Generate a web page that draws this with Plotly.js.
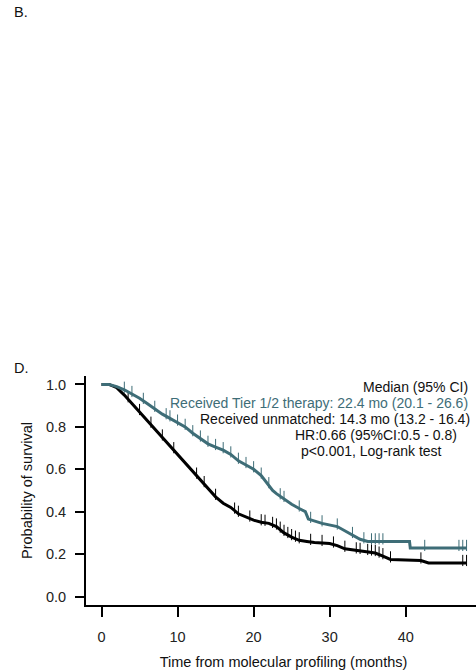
<!DOCTYPE html>
<html>
<head>
<meta charset="utf-8">
<script src="https://cdn.plot.ly/plotly-3.0.1.min.js"></script>
<style>
html,body{margin:0;padding:0;overflow:hidden;background:#fff;width:476px;height:670px;}
#chart{width:481px;height:670px;}
</style>
</head>
<body>
<div id="chart"></div>
<script>
// Received Tier 1/2 therapy (teal) – time in months, survival probability
const tierTime = [0, 1, 2, 3, 4, 5, 6, 7, 8, 9, 10, 11, 12, 13, 14, 15, 16, 17, 18, 19, 20, 21, 22, 22.5, 23, 24, 25, 26, 26.8, 27.2, 28, 29, 31, 32, 33, 34, 35, 40.5, 40.6, 48];
const tierSurv = [1.0, 1.0, 0.99, 0.975, 0.955, 0.935, 0.91, 0.885, 0.86, 0.84, 0.82, 0.80, 0.77, 0.745, 0.72, 0.705, 0.69, 0.67, 0.64, 0.62, 0.60, 0.57, 0.525, 0.50, 0.485, 0.46, 0.435, 0.415, 0.40, 0.365, 0.355, 0.345, 0.33, 0.31, 0.29, 0.27, 0.26, 0.26, 0.229, 0.229];
const tierCensor = [3, 4, 5.5, 7, 8.5, 9, 10, 11, 12, 13, 14, 15, 16, 17, 18, 19, 20, 21, 22, 23.5, 24, 26, 27.5, 29, 31, 33, 34.5, 35.5, 36, 36.5, 37, 42.5, 47, 47.5, 48];

// Received unmatched (black)
const unmTime = [0, 1, 2, 3, 4, 5, 6, 7, 8, 9, 10, 11, 12, 13, 14, 15, 16, 17, 18, 19, 20, 21, 22, 23, 24, 25, 26, 27, 28, 30, 31, 32, 34, 36, 37, 38, 42, 43, 48];
const unmSurv = [1.0, 1.0, 0.985, 0.95, 0.91, 0.87, 0.83, 0.79, 0.75, 0.71, 0.67, 0.63, 0.59, 0.55, 0.51, 0.47, 0.44, 0.42, 0.39, 0.375, 0.36, 0.35, 0.345, 0.33, 0.30, 0.28, 0.265, 0.26, 0.255, 0.25, 0.24, 0.225, 0.215, 0.205, 0.19, 0.175, 0.17, 0.158, 0.158];
const unmCensor = [3.5, 5, 6.5, 8, 9.5, 12.5, 13.5, 15, 17.5, 18, 19.5, 21, 21.5, 22.5, 23, 23.5, 24, 24.5, 25, 25.5, 26, 27.5, 29, 30.5, 32, 33.5, 34, 35, 35.5, 36, 36.5, 37, 38, 42, 47.5, 48];

const xTicks = [0, 10, 20, 30, 40];
const yTicks = [0, 0.2, 0.4, 0.6, 0.8, 1.0];
const yTickText = ['0.0', '0.2', '0.4', '0.6', '0.8', '1.0'];

const TEAL = '#3e6d77';
const FONT = 'Liberation Sans, Arial, sans-serif';

function interp(ts, ss, t) {
  for (let i = 0; i < ts.length - 1; i++) {
    if (t >= ts[i] && t <= ts[i + 1]) {
      if (ts[i + 1] === ts[i]) return ss[i + 1];
      const f = (t - ts[i]) / (ts[i + 1] - ts[i]);
      return ss[i] + f * (ss[i + 1] - ss[i]);
    }
  }
  return ss[ss.length - 1];
}

const traces = [
  {x: unmTime, y: unmSurv, mode: 'lines', line: {color: '#000', width: 3}, hoverinfo: 'skip'},
  {x: unmCensor, y: unmCensor.map(t => interp(unmTime, unmSurv, t) + 0.012), mode: 'markers',
   marker: {symbol: 'line-ns', size: 8, line: {color: '#000', width: 1}}, hoverinfo: 'skip'},
  {x: tierTime, y: tierSurv, mode: 'lines', line: {color: TEAL, width: 3}, hoverinfo: 'skip'},
  {x: tierCensor, y: tierCensor.map(t => interp(tierTime, tierSurv, t) + 0.012), mode: 'markers',
   marker: {symbol: 'line-ns', size: 8, line: {color: TEAL, width: 1}}, hoverinfo: 'skip'}
];

function pxAnn(text, x, y, anchor, color, size) {
  return {text: text, xref: 'paper', yref: 'paper',
    x: (x - 86) / 395, y: (605 - y) / 229, xanchor: anchor, yanchor: 'middle',
    showarrow: false, font: {family: FONT, size: size || 14, color: color || '#111'}};
}

const layout = {
  width: 481, height: 670,
  margin: {l: 86, r: 0, t: 376, b: 65, pad: 0},
  paper_bgcolor: '#fff', plot_bgcolor: '#fff',
  showlegend: false,
  font: {family: FONT, size: 14.5, color: '#111'},
  xaxis: {
    range: [-2.04, 49.9], tickvals: xTicks, ticktext: xTicks.map(String),
    showline: true, linecolor: '#000', linewidth: 2, mirror: false,
    ticks: 'outside', ticklen: 10, tickwidth: 2, tickcolor: '#000',
    showgrid: false, zeroline: false, ticklabelstandoff: 8,
    tickfont: {family: FONT, size: 14.5, color: '#222'},
    title: {text: 'Time from molecular profiling (months)', standoff: 14,
            font: {family: FONT, size: 14.5, color: '#111'}}
  },
  yaxis: {
    range: [-0.04, 1.04], tickvals: yTicks, ticktext: yTickText,
    showline: true, linecolor: '#000', linewidth: 2, mirror: false,
    ticks: 'outside', ticklen: 9, tickwidth: 2, tickcolor: '#000',
    showgrid: false, zeroline: false, ticklabelstandoff: 6,
    tickfont: {family: FONT, size: 14.5, color: '#222'},
    title: {text: 'Probability of survival', standoff: 10,
            font: {family: FONT, size: 14.5, color: '#111'}}
  },
  annotations: [
    pxAnn('Median (95% CI)', 470, 387, 'right'),
    pxAnn('Received Tier 1/2 therapy: 22.4 mo (20.1 - 26.6)', 470, 403, 'right', TEAL),
    pxAnn('Received unmatched: 14.3 mo (13.2 - 16.4)', 472, 419, 'right'),
    pxAnn('HR:0.66 (95%CI:0.5 - 0.8)', 293, 435, 'left'),
    pxAnn('p<0.001, Log-rank test', 299, 451, 'left'),
    pxAnn('B.', 12, 12, 'left', '#111', 14.5),
    pxAnn('D.', 12, 368, 'left', '#111', 14.5)
  ]
};

Plotly.newPlot('chart', traces, layout, {staticPlot: true, displayModeBar: false});
</script>
</body>
</html>
